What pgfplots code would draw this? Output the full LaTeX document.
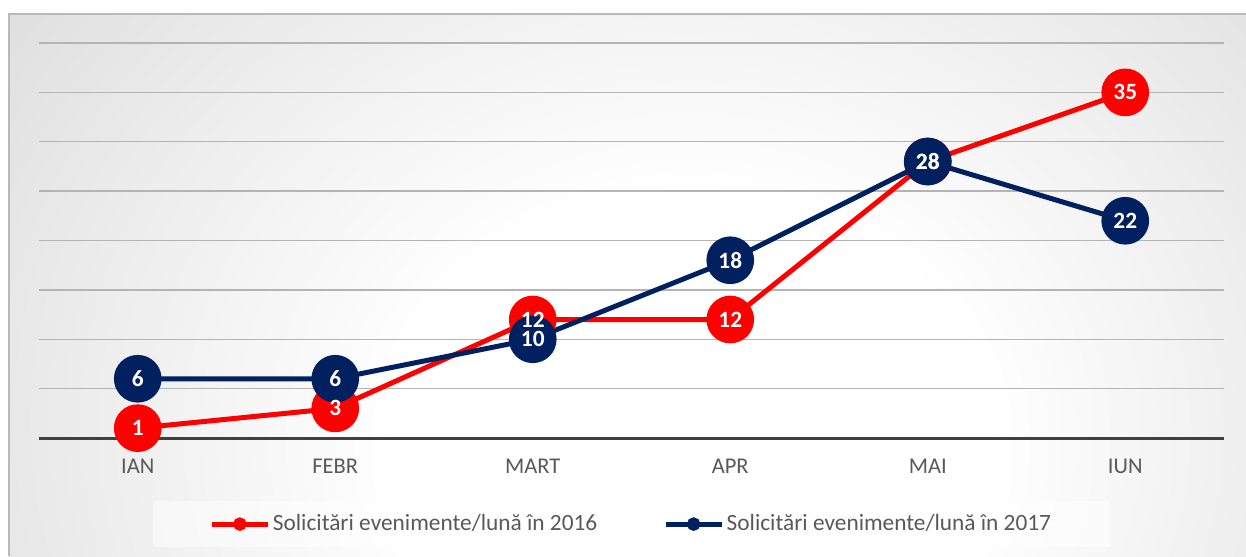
\documentclass[border=0pt]{standalone}
\usepackage{fontspec}
\setmainfont{Carlito}
\usepackage{pgfplots}
\usepackage{pgfplotstable}
\pgfplotsset{compat=1.18}

\definecolor{red16}{HTML}{FF0000}
\definecolor{navy17}{HTML}{002060}
\definecolor{txt}{HTML}{595959}
\definecolor{gridc}{HTML}{B4B4B4}
\definecolor{axisc}{HTML}{404040}

% background: bright spot a little right of and below the middle
\pgfdeclareradialshading{bgshade}{\pgfpoint{3bp}{-9bp}}{%
  color(0bp)=(white); color(12bp)=(white); color(35bp)=(gray!27);
  color(50bp)=(gray!48); color(72bp)=(gray!56); color(100bp)=(gray!58)}

\pgfplotstableread{
x  a   b
0  1   6
1  3   6
2  12  10
3  12  18
4  28  28
5  35  22
}\data

\def\u{0.6pt}

\begin{document}
\begin{tikzpicture}
\path[use as bounding box] (0,0) rectangle (1246*\u,556*\u);
\begin{scope}
  \clip (9*\u,0) rectangle (1246*\u,542*\u);
  \shade[shading=bgshade] (9*\u,-250*\u) rectangle (1246*\u,800*\u);
\end{scope}
\draw[gray!55, line width=0.8pt] (9*\u,0) -- (9*\u,542*\u) -- (1246*\u,542*\u);
% legend panel
\fill[white, opacity=0.5] (153*\u,9*\u) rectangle (1110*\u,55*\u);

\begin{axis}[
  at={(39*\u,118*\u)}, anchor=south west,
  scale only axis, width=1185*\u, height=395*\u,
  xmin=-0.5, xmax=5.5, ymin=0, ymax=40,
  axis line style={draw=none},
  xtick={0,...,5}, xticklabels={IAN,FEBR,MART,APR,MAI,IUN},
  ytick={5,10,...,40}, yticklabels={},
  ymajorgrids, grid style={color=gridc, line width=0.8pt},
  extra y ticks={0}, extra y tick labels={},
  extra y tick style={grid style={color=axisc, line width=1.8pt}},
  major tick length=0,
  tick label style={font=\fontsize{13.5}{13.5}\selectfont, text=txt},
  xticklabel style={yshift=-9pt},
  /pgf/number format/assume math mode=true,
  clip=false,
  legend columns=2,
  legend style={at={(0.5,-0.218)}, anchor=center, fill=none, draw=none,
    font=\fontsize{14}{14}\selectfont, text=txt,
    /tikz/every even column/.append style={column sep=38pt},
    nodes={inner xsep=1.5pt}},
  legend image code/.code={\draw[#1, mark repeat=2, mark phase=2, mark size=2.5pt]
    plot coordinates {(0pt,0pt) (16.8pt,0pt) (33.6pt,0pt)};},
  every node near coord/.append style={anchor=center, text=white, inner sep=0pt,
    font=\bfseries\fontsize{14}{14}\selectfont},
]
\addplot[red16, line width=3pt, mark=*, mark size=12.8pt,
  mark options={solid, fill=red16, draw=red16}] table[x=x, y=a] {\data};
\addlegendentry{Solicitări evenimente/lună în 2016}
\addplot[navy17, line width=3pt, mark=*, mark size=12.8pt,
  mark options={solid, fill=navy17, draw=navy17}] table[x=x, y=b] {\data};
\addlegendentry{Solicitări evenimente/lună în 2017}
% value labels on top of both series
\addplot[draw=none, mark=none, nodes near coords, forget plot] table[x=x, y=a] {\data};
\addplot[draw=none, mark=none, nodes near coords, forget plot] table[x=x, y=b] {\data};
\end{axis}
\end{tikzpicture}
\end{document}
